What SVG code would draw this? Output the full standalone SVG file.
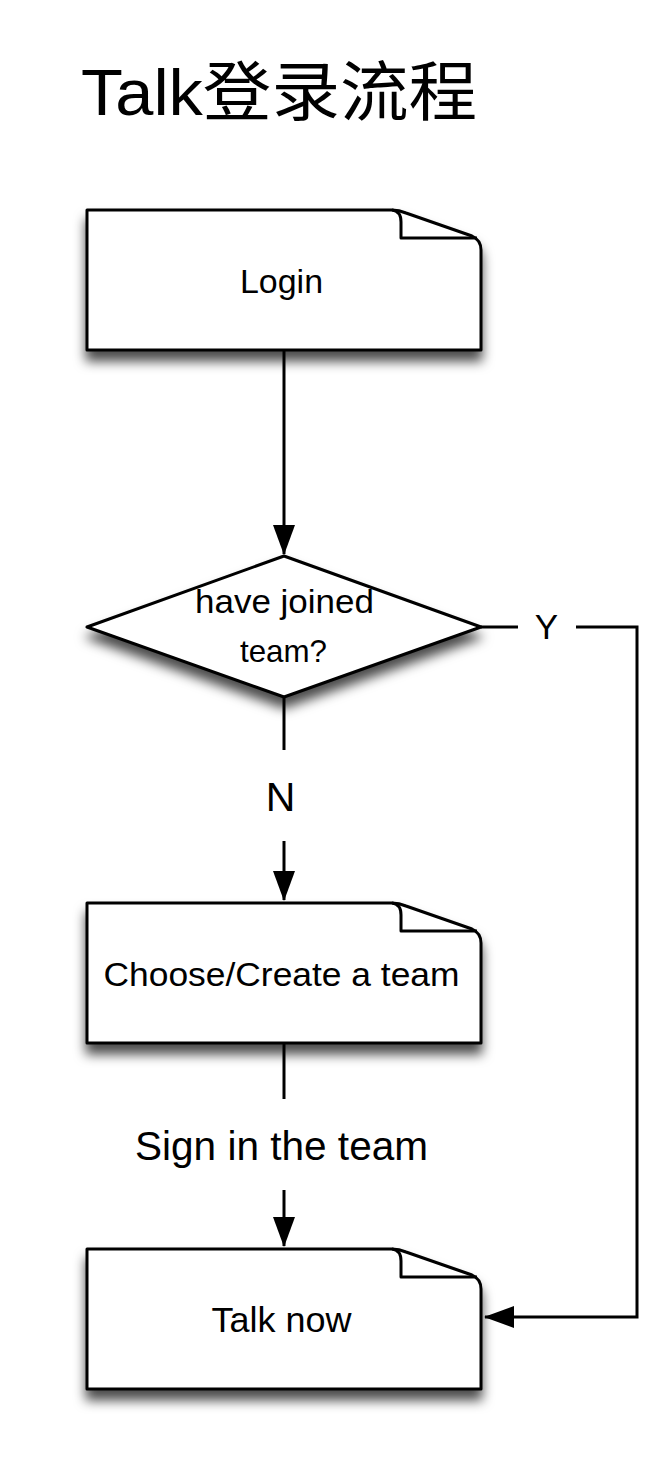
<svg xmlns="http://www.w3.org/2000/svg" width="669" height="1461" viewBox="0 0 669 1461">
<style>
  .shape { fill: #ffffff; stroke: #000000; stroke-width: 3; stroke-linejoin: round; }
  .fold { fill: none; stroke: #000000; stroke-width: 3; stroke-linejoin: round; }
  .conn { fill: none; stroke: #000000; stroke-width: 3; }
  .lbl { font-family: "Liberation Sans", Arial, Helvetica, sans-serif; fill: #000000; text-anchor: middle; }
  .title { font-family: "Liberation Sans", Arial, "Noto Sans CJK SC", sans-serif; fill: #000000; font-size: 65px; }
</style>
<defs>
  <filter id="shadow" x="-10%" y="-15%" width="120%" height="150%">
    <feDropShadow dx="0" dy="10" stdDeviation="6" flood-color="#000000" flood-opacity="0.7"/>
  </filter>
  <marker id="arrow" markerUnits="userSpaceOnUse" markerWidth="30" markerHeight="22" viewBox="0 0 30 22" refX="29" refY="11" orient="auto">
    <path d="M0,0 L30,11 L0,22 Z" fill="#000000"/>
  </marker>
  <g id="doc">
    <path class="shape" d="M0,0 H305 Q312,0 319,3 L385,26 Q394,30 394,40 V140 H0 Z"/>
    <path class="fold" d="M305,0 Q314,1 314,12 V28 H390"/>
  </g>
</defs>
<rect width="669" height="1461" fill="#ffffff"/>
<text class="title" x="81" y="115" textLength="396" lengthAdjust="spacingAndGlyphs">Talk登录流程</text>

<g id="connectors">
  <path class="conn" d="M284,350 V554" marker-end="url(#arrow)"/>
  <path class="conn" d="M284,697 V750"/>
  <path class="conn" d="M284,841 V900" marker-end="url(#arrow)"/>
  <path class="conn" d="M284,1043 V1099"/>
  <path class="conn" d="M284,1190 V1246" marker-end="url(#arrow)"/>
  <path class="conn" d="M481,627 H518"/>
  <path class="conn" d="M576,627 H637 V1317 H485" marker-end="url(#arrow)"/>
  <text class="lbl" x="546.5" y="638.5" font-size="35">Y</text>
  <text class="lbl" x="280.5" y="810.5" font-size="41">N</text>
  <text class="lbl" x="281.5" y="1160" font-size="40" textLength="293" lengthAdjust="spacingAndGlyphs">Sign in the team</text>
</g>

<g id="login">
  <use href="#doc" x="87" y="210" filter="url(#shadow)"/>
  <text class="lbl" x="281.5" y="293" font-size="33" textLength="83" lengthAdjust="spacingAndGlyphs">Login</text>
</g>

<g id="decision">
  <polygon class="shape" points="284,556 481,627 284,697 87,627" filter="url(#shadow)"/>
  <text class="lbl" x="284.5" y="613" font-size="33" textLength="179" lengthAdjust="spacingAndGlyphs">have joined</text>
  <text class="lbl" x="283.5" y="662" font-size="32" textLength="87" lengthAdjust="spacingAndGlyphs">team?</text>
</g>

<g id="choose">
  <use href="#doc" x="87" y="903" filter="url(#shadow)"/>
  <text class="lbl" x="281.5" y="986" font-size="34" textLength="356" lengthAdjust="spacingAndGlyphs">Choose/Create a team</text>
</g>

<g id="talknow">
  <use href="#doc" x="87" y="1249" filter="url(#shadow)"/>
  <text class="lbl" x="281.5" y="1332" font-size="35" textLength="140" lengthAdjust="spacingAndGlyphs">Talk now</text>
</g>
</svg>
